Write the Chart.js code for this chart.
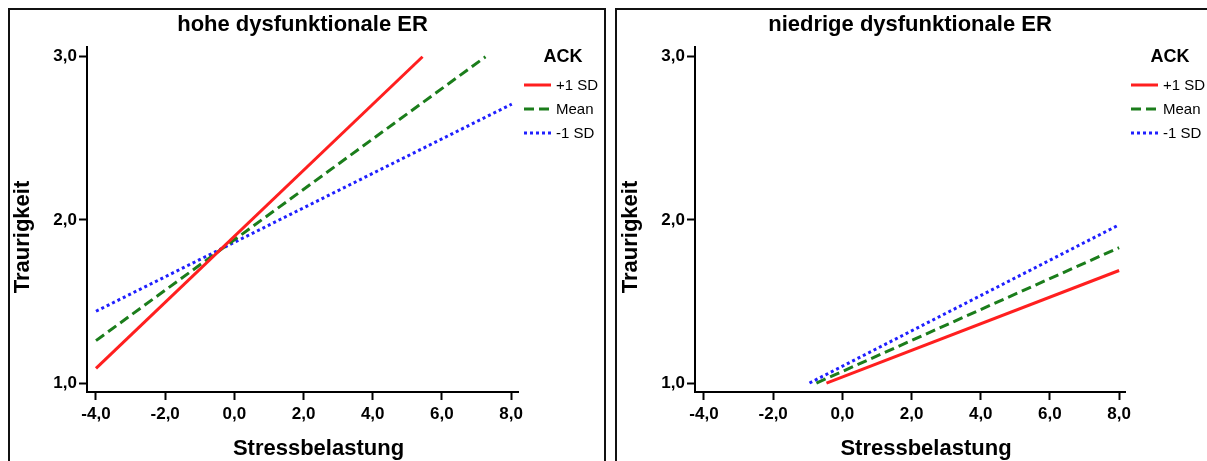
<!DOCTYPE html>
<html>
<head>
<meta charset="utf-8">
<script src="https://cdn.jsdelivr.net/npm/chart.js@4"></script>
<style>
  body { margin: 0; background: #fff; width: 1207px; height: 461px; overflow: hidden; position: relative; }
  .panel { position: absolute; top: 8px; height: 480px; border: 2px solid #111; box-sizing: border-box; }
  canvas { position: absolute; top: 10px; }
</style>
</head>
<body>
<div class="panel" style="left:8px; width:598px;"></div>
<div class="panel" style="left:615px; width:620px;"></div>
<canvas id="hoheChart" style="left:10px" width="594" height="451"></canvas>
<canvas id="niedrigeChart" style="left:617px" width="590" height="451"></canvas>
<script>
// Achsen
const xTicks = [-4, -2, 0, 2, 4, 6, 8];
const yTicks = [1, 2, 3];
const seriesLabels = ['+1 SD', 'Mean', '-1 SD'];

// hohe dysfunktionale ER (Start- und Endpunkt je Linie)
const hohePlusX = [-4.0, 5.44];
const hohePlusY = [1.09, 3.0];
const hoheMeanX = [-4.0, 7.26];
const hoheMeanY = [1.26, 3.0];
const hoheMinusX = [-4.0, 8.02];
const hoheMinusY = [1.44, 2.71];

// niedrige dysfunktionale ER
const niedrigPlusX = [-0.46, 8.0];
const niedrigPlusY = [1.0, 1.69];
const niedrigMeanX = [-0.75, 8.0];
const niedrigMeanY = [1.0, 1.83];
const niedrigMinusX = [-0.95, 8.0];
const niedrigMinusY = [1.0, 1.97];

const FONT = '"Liberation Sans", Arial, sans-serif';
const colors = ['#ff1f1f', '#1b7d1b', '#1f1fff'];
const dashes = [[], [10, 5], [3, 3]];

function toPoints(xs, ys) {
    return xs.map((x, i) => ({x: x, y: ys[i]}));
}

function fmt(v) {
    return v.toFixed(1).replace('.', ',');
}

// Titel, Achsentitel und Legende
const decor = {
    id: 'decor',
    afterDraw(chart, args, opts) {
        const ctx = chart.ctx;
        const a = chart.chartArea;
        const mid = (a.left + a.right) / 2;
        ctx.save();
        ctx.fillStyle = '#000';
        ctx.textAlign = 'center';
        ctx.textBaseline = 'alphabetic';
        ctx.font = 'bold 22px ' + FONT;
        ctx.fillText(opts.title, mid, 21);
        ctx.fillText('Stressbelastung', mid + 16, 445);
        ctx.save();
        ctx.translate(opts.yTitleX, 227);
        ctx.rotate(-Math.PI / 2);
        ctx.fillText('Traurigkeit', 0, 0);
        ctx.restore();

        // Legende
        ctx.font = 'bold 18px ' + FONT;
        ctx.textBaseline = 'middle';
        ctx.fillText('ACK', a.right + 45, 47);
        ctx.font = '15px ' + FONT;
        ctx.textAlign = 'left';
        chart.data.datasets.forEach((ds, i) => {
            const y = 75 + i * 24;
            ctx.strokeStyle = ds.borderColor;
            ctx.lineWidth = 3;
            ctx.setLineDash(ds.borderDash);
            ctx.beginPath();
            ctx.moveTo(a.right + 6, y);
            ctx.lineTo(a.right + 33, y);
            ctx.stroke();
            ctx.fillText(ds.label, a.right + 38, y + 1);
        });
        ctx.restore();
    }
};

function makeChart(id, title, series, xRange, yTitleX, padRight, yWidth) {
    const datasets = series.map((pts, i) => ({
        label: seriesLabels[i],
        data: pts,
        borderColor: colors[i],
        borderDash: dashes[i],
        borderWidth: 3,
        borderCapStyle: 'butt',
        pointRadius: 0,
        fill: false,
        tension: 0
    }));
    return new Chart(document.getElementById(id), {
        type: 'line',
        data: {datasets: datasets},
        plugins: [decor],
        options: {
            responsive: false,
            animation: false,
            events: [],
            layout: {padding: {top: 37, right: padRight, bottom: 0, left: 0}},
            plugins: {
                legend: {display: false},
                tooltip: {enabled: false},
                decor: {title: title, yTitleX: yTitleX}
            },
            scales: {
                x: {
                    type: 'linear',
                    min: xRange[0],
                    max: xRange[1],
                    afterBuildTicks: s => { s.ticks = xTicks.map(v => ({value: v})); },
                    afterFit: s => { s.height = 69; },
                    border: {display: true, color: '#000', width: 2},
                    grid: {drawOnChartArea: false, drawTicks: true, tickLength: 8, tickWidth: 2, tickColor: '#000'},
                    ticks: {
                        callback: v => fmt(v),
                        color: '#000',
                        padding: 4,
                        maxRotation: 0,
                        font: {family: FONT, size: 17, weight: 'bold'}
                    }
                },
                y: {
                    type: 'linear',
                    min: 0.945,
                    max: 3.06,
                    afterBuildTicks: s => { s.ticks = yTicks.map(v => ({value: v})); },
                    afterFit: s => { s.width = yWidth; },
                    border: {display: true, color: '#000', width: 2},
                    grid: {drawOnChartArea: false, drawTicks: true, tickLength: 8, tickWidth: 2, tickColor: '#000'},
                    ticks: {
                        callback: v => fmt(v),
                        color: '#000',
                        padding: 2,
                        font: {family: FONT, size: 17, weight: 'bold'}
                    }
                }
            }
        }
    });
}

makeChart('hoheChart', 'hohe dysfunktionale ER',
    [toPoints(hohePlusX, hohePlusY), toPoints(hoheMeanX, hoheMeanY), toPoints(hoheMinusX, hoheMinusY)],
    [-4.26, 8.2], 19, 86, 77);

makeChart('niedrigeChart', 'niedrige dysfunktionale ER',
    [toPoints(niedrigPlusX, niedrigPlusY), toPoints(niedrigMeanX, niedrigMeanY), toPoints(niedrigMinusX, niedrigMinusY)],
    [-4.26, 8.17], 20, 82, 78);
</script>
</body>
</html>
